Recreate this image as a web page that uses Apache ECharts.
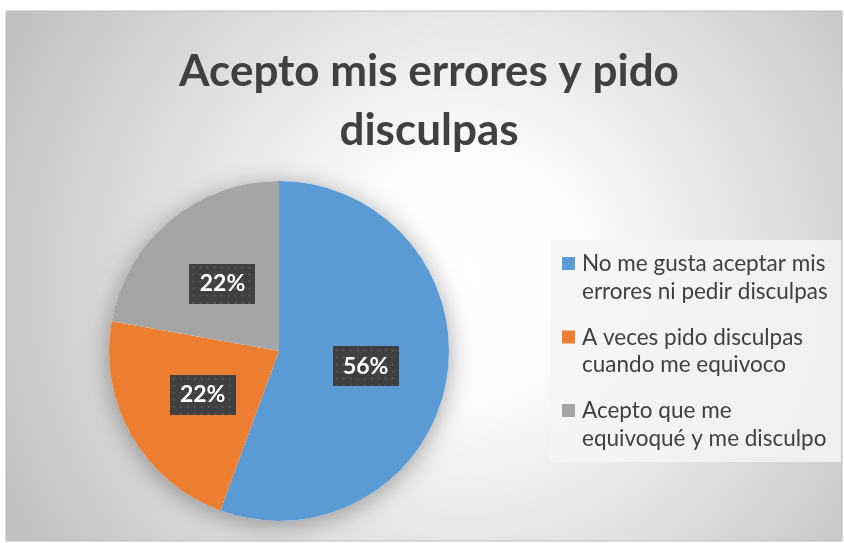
<!DOCTYPE html>
<html lang="es">
<head>
    <meta charset="UTF-8">
    <title>Acepto mis errores y pido disculpas</title>
    <script src="https://cdn.jsdelivr.net/npm/echarts@6/dist/echarts.min.js"></script>
    <style>
        html, body { margin: 0; padding: 0; background: #ffffff; }
    </style>
</head>
<body>
<div id="main" style="width: 844px;height:543px;"></div>
<script type="text/javascript">
    // datos del gráfico
    var titleText = 'Acepto mis errores y pido\ndisculpas';
    var categories = [
        'No me gusta aceptar mis errores ni pedir disculpas',
        'A veces pido disculpas cuando me equivoco',
        'Acepto que me equivoqué y me disculpo'
    ];
    var legendLines = [
        'No me gusta aceptar mis\nerrores ni pedir disculpas',
        'A veces pido disculpas\ncuando me equivoco',
        'Acepto que me\nequivoqué y me disculpo'
    ];
    var values = [55.6, 22.2, 22.2];
    var colors = ['#5b9bd5', '#ed7d31', '#a5a5a5'];

    // fondo punteado de las etiquetas
    function dotPattern(w, h) {
        var c = document.createElement('canvas');
        c.width = w;
        c.height = h;
        var ctx = c.getContext('2d');
        ctx.fillStyle = '#404040';
        ctx.fillRect(0, 0, w, h);
        ctx.fillStyle = '#575757';
        for (var y = 3; y < h; y += 7) {
            for (var x = 3; x < w; x += 7) {
                ctx.fillRect(x, y, 2, 2);
            }
        }
        return c;
    }
    var labelBg = dotPattern(66, 40);

    var myChart = echarts.init(document.getElementById('main'));

    var pieData = categories.map(function (name, i) {
        return {name: name, value: values[i], itemStyle: {color: colors[i]}};
    });

    var option = {
        animation: false,
        title: {
            text: titleText,
            left: 424,
            top: 37,
            textAlign: 'center',
            textStyle: {
                fontFamily: 'Lato',
                fontWeight: 'bold',
                fontSize: 44,
                lineHeight: 59,
                color: '#404040'
            }
        },
        legend: [
            {
                // solo los cuadritos de color
                orient: 'vertical',
                left: 562,
                top: 257,
                padding: 0,
                itemWidth: 13,
                itemHeight: 13,
                itemGap: 60.5,
                icon: 'rect',
                data: categories,
                formatter: function () {
                    return '';
                }
            },
            {
                // solo el texto, en dos lineas
                orient: 'vertical',
                left: 577,
                top: 250,
                padding: 0,
                itemWidth: 0,
                itemHeight: 13,
                itemGap: 18.5,
                icon: 'none',
                data: categories,
                formatter: function (name) {
                    return legendLines[categories.indexOf(name)];
                },
                textStyle: {
                    fontFamily: 'Lato',
                    fontSize: 22.5,
                    lineHeight: 27.5,
                    color: '#404040'
                }
            }
        ],
        graphic: [
            {
                type: 'rect',
                z: -10,
                shape: {x: 6, y: 11, width: 836, height: 530},
                style: {
                    fill: new echarts.graphic.RadialGradient(0.55, 0.5, 0.95, [
                        {offset: 0, color: '#ffffff'},
                        {offset: 0.25, color: '#fbfbfb'},
                        {offset: 1, color: '#c2c2c2'}
                    ]),
                    stroke: '#bdbdbd',
                    lineWidth: 1
                }
            },
            {
                type: 'rect',
                z: -9,
                shape: {x: 550, y: 240, width: 291, height: 222},
                style: {fill: 'rgba(244,244,244,0.85)'}
            }
        ],
        series: [
            {
                // sombra suave detrás del pastel
                name: 'sombra',
                type: 'pie',
                silent: true,
                z: 1,
                center: [279, 351],
                radius: 170,
                label: {show: false},
                labelLine: {show: false},
                data: [{value: 1, name: '', itemStyle: {color: '#ffffff'}}],
                itemStyle: {
                    shadowBlur: 24,
                    shadowOffsetY: 4,
                    shadowColor: 'rgba(0, 0, 0, 0.35)'
                }
            },
            {
                name: 'Acepto mis errores y pido disculpas',
                type: 'pie',
                z: 2,
                center: [279, 351],
                radius: 170,
                startAngle: 90,
                clockwise: true,
                percentPrecision: 0,
                data: pieData,
                itemStyle: {borderWidth: 0},
                label: {
                    show: true,
                    position: 'inside',
                    formatter: '{d}%',
                    fontFamily: 'Lato',
                    fontWeight: 'bold',
                    fontSize: 23,
                    lineHeight: 22,
                    color: '#ffffff',
                    width: 66,
                    height: 22,
                    overflow: 'none',
                    padding: [9, 0],
                    align: 'center',
                    backgroundColor: {image: labelBg},
                    shadowBlur: 6,
                    shadowOffsetX: 3,
                    shadowOffsetY: 3,
                    shadowColor: 'rgba(0, 0, 0, 0.45)'
                },
                labelLine: {show: false},
                emphasis: {scale: false}
            }
        ]
    };

    myChart.setOption(option);
</script>
</body>
</html>
